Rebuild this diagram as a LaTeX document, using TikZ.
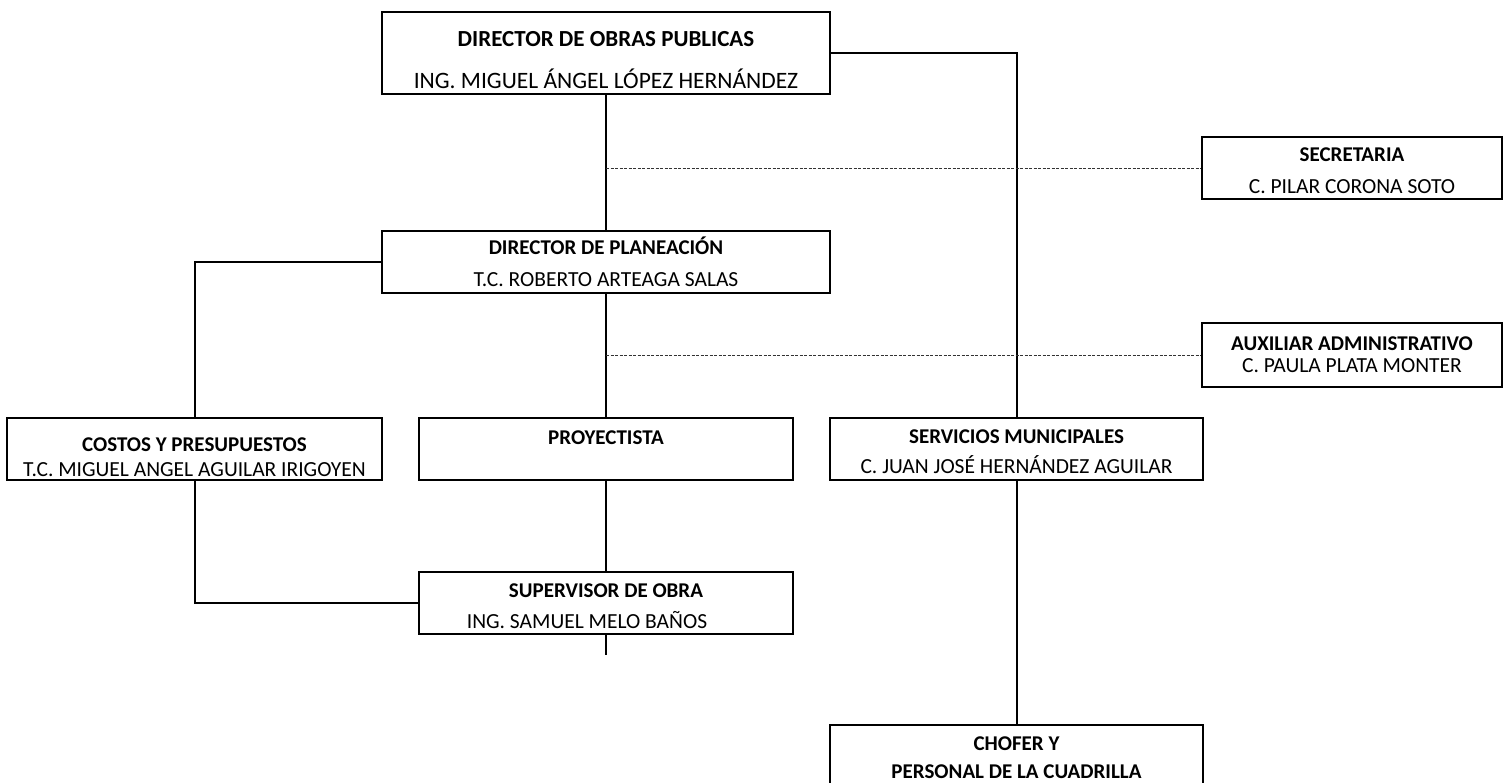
\documentclass[tikz,border=0pt]{standalone}
\usepackage{fontspec}
\setmainfont{Carlito}

\begin{document}
\begin{tikzpicture}[x=1pt,y=-1pt,
  box/.style={draw,line width=2pt,inner sep=0pt,minimum width=374pt,minimum height=62pt},
  ttl/.style={font=\bfseries\fontsize{21}{25}\selectfont,inner sep=0pt,text height=13.5pt,text depth=0pt},
  nm/.style={font=\fontsize{21.5}{26}\selectfont,inner sep=0pt,text height=13.8pt,text depth=0pt},
  link/.style={line width=2pt},
  staff/.style={line width=0.8pt,dash pattern=on 3pt off 1.5pt,black!80}]

\useasboundingbox (0,0) rectangle (1509,783);
\clip (0,0) rectangle (1509,783);

\node[box,minimum width=448pt,minimum height=82pt] (dir) at (606,53) {};
\node[ttl,font=\bfseries\fontsize{23}{27}\selectfont,text height=14.8pt] (dirT) at (606,39) {DIRECTOR DE OBRAS PUBLICAS};
\node[nm,font=\fontsize{23.5}{28}\selectfont,text height=15.1pt] (dirN) at (606,81) {ING. MIGUEL ÁNGEL LÓPEZ HERNÁNDEZ};

\node[box,minimum width=300pt] (sec) at (1352,168) {};
\node[ttl] (secT) at (1352,155) {SECRETARIA};
\node[nm] (secN) at (1352,187) {C. PILAR CORONA SOTO};

\node[box,minimum width=448pt] (plan) at (606,262) {};
\node[ttl] (planT) at (606,248) {DIRECTOR DE PLANEACIÓN};
\node[nm] (planN) at (606,280) {T.C. ROBERTO ARTEAGA SALAS};

\node[box,minimum width=300pt,minimum height=64pt] (aux) at (1352,355) {};
\node[ttl] (auxT) at (1352,344) {AUXILIAR ADMINISTRATIVO};
\node[nm] (auxN) at (1352,366) {C. PAULA PLATA MONTER};

\node[box,minimum width=375pt] (cost) at (194.5,449) {};
\node[ttl] (costT) at (194.5,445) {COSTOS Y PRESUPUESTOS};
\node[nm] (costN) at (194.5,470) {T.C. MIGUEL ANGEL AGUILAR IRIGOYEN};

\node[box] (proy) at (606,449) {};
\node[ttl] (proyT) at (606,438) {PROYECTISTA};

\node[box,minimum width=373pt] (serv) at (1016.5,449) {};
\node[ttl] (servT) at (1016.5,437) {SERVICIOS MUNICIPALES};
\node[nm] (servN) at (1016.5,467) {C. JUAN JOSÉ HERNÁNDEZ AGUILAR};

\node[box] (sup) at (606,603) {};
\node[ttl] (supT) at (606,591) {SUPERVISOR DE OBRA};
\node[nm] (supN) at (587,622) {ING. SAMUEL MELO BAÑOS};

\node[box,minimum width=373pt,minimum height=80pt] (chof) at (1016.5,765) {};
\node[ttl] (chofT) at (1016.5,744) {CHOFER Y};
\node[ttl] (chofN) at (1016.5,772) {PERSONAL DE LA CUADRILLA};

\coordinate (supEnd) at (606,655);

\draw[link] (dir.east) -| (serv.north);
\draw[link] (dir.south) -- (plan.north);
\draw[staff] (dir.south |- sec.west) -- (sec.west);
\draw[link] (plan.west) -| (cost.north);
\draw[link] (plan.south) -- (proy.north);
\draw[staff] (plan.south |- aux.west) -- (aux.west);
\draw[link] (cost.south) |- (sup.west);
\draw[link] (proy.south) -- (sup.north);
\draw[link] (sup.south) -- (supEnd);
\draw[link] (serv.south) -- (chof.north);

\end{tikzpicture}
\end{document}
